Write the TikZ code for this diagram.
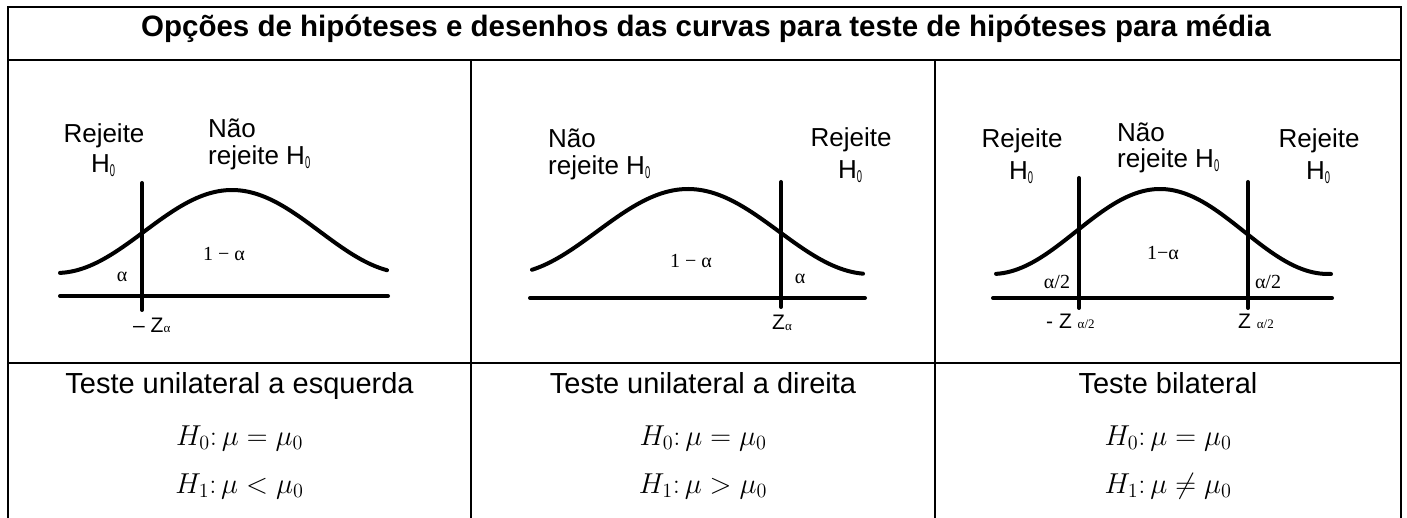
\RequirePackage{fix-cm}
\documentclass[tikz,border=0pt]{standalone}
\usepackage{fontspec}
\setmainfont{Liberation Sans}
\newfontfamily\tmsfont{Liberation Serif}
\usepackage{tikz}
\usetikzlibrary{positioning}
% subscript zero in the curve labels
\newcommand{\Hnull}{H\raisebox{-4pt}{\scalebox{0.55}[1]{\fontsize{17}{17}\selectfont 0}}}
\newcommand{\zsub}[1]{\raisebox{-1pt}{\tmsfont\fontsize{13}{13}\selectfont #1}}
\newcommand{\hypo}[1]{\scalebox{1.2}{$#1$}}

\begin{document}
\begin{tikzpicture}[x=1pt,y=-1pt,
  tbl/.style={line width=2pt},
  curve/.style={line width=4pt,line cap=round},
  headtext/.style={font=\bfseries\fontsize{29.5}{29.5}\selectfont,inner sep=0pt,anchor=base},
  captext/.style={font=\fontsize{29}{29}\selectfont,inner sep=0pt,anchor=base},
  hyp/.style={font=\fontsize{24}{24}\selectfont,inner sep=0pt,anchor=base},
  lbl/.style={font=\fontsize{26}{26}\selectfont,inner sep=0pt},
  grk/.style={font=\tmsfont\fontsize{20}{20}\selectfont,inner sep=0pt,anchor=base},
  zlbl/.style={font=\fontsize{21}{21}\selectfont,inner sep=0pt,anchor=base west}]
\useasboundingbox (0,0) rectangle (1407,518);
% table
\draw[tbl] (8,530) -- (8,7) -- (1401,7) -- (1401,530);
\draw[tbl] (8,60) -- (1401,60);
\draw[tbl] (8,363) -- (1401,363);
\draw[tbl] (471,60) -- (471,530);
\draw[tbl] (935,60) -- (935,530);
\node[headtext] (head) at (706,37) {Opções de hipóteses e desenhos das curvas para teste de hipóteses para média};

% left tail
\draw[curve] (60,296) -- (388,296);
\draw[curve] plot[domain=60:387,samples=90] (\x,{273-83*(1+cos(min(abs(\x-232)/175.6,1)*180))/2});
\draw[curve] (142,183) -- (142,310);
\node[lbl,anchor=base] (rejA) at (104,143) {Rejeite};
\node[lbl,anchor=base] (rejAh) at (103,173) {\Hnull};
\node[lbl,anchor=base west] (naoA) at (208,138) {Não};
\node[lbl,anchor=base west] (naoAh) at (208,165) {rejeite \Hnull};
\node[grk] (alA) at (122,282) {α};
\node[grk] (oneA) at (224,261) {1 − α};
\node[zlbl] (zA) at (133,332) {– Z\zsub{α}};

% right tail
\draw[curve] (530,298) -- (865,298);
\draw[curve] plot[domain=532:863,samples=90] (\x,{274-85*(1+cos(min(abs(\x-688)/182,1)*180))/2});
\draw[curve] (781,182) -- (781,307);
\node[lbl,anchor=base west] (naoB) at (548,148) {Não};
\node[lbl,anchor=base west] (naoBh) at (548,175) {rejeite \Hnull};
\node[lbl,anchor=base] (rejB) at (851,147) {Rejeite};
\node[lbl,anchor=base] (rejBh) at (850,179) {\Hnull};
\node[grk] (oneB) at (691,268) {1 − α};
\node[grk] (alB) at (800,284) {α};
\node[zlbl] (zB) at (772,330) {Z\zsub{α}};

% two tails
\draw[curve] (993,298) -- (1332,298);
\draw[curve] plot[domain=996:1331,samples=90] (\x,{274-85*(1+cos(min(abs(\x-1160)/168,1)*180))/2});
\draw[curve] (1079,178) -- (1079,308);
\draw[curve] (1248,182) -- (1248,308);
\node[lbl,anchor=base] (rejC) at (1022,148) {Rejeite};
\node[lbl,anchor=base] (rejCh) at (1021,180) {\Hnull};
\node[lbl,anchor=base west] (naoC) at (1117,142) {Não};
\node[lbl,anchor=base west] (naoCh) at (1117,168) {rejeite \Hnull};
\node[lbl,anchor=base] (rejD) at (1319,148) {Rejeite};
\node[lbl,anchor=base] (rejDh) at (1318,180) {\Hnull};
\node[grk] (oneC) at (1163,260) {1−α};
\node[grk] (alC) at (1057,289) {α/2};
\node[grk] (alD) at (1268,289) {α/2};
\node[zlbl] (zC) at (1046,328) {- Z \zsub{α/2}};
\node[zlbl] (zD) at (1238,328) {Z \zsub{α/2}};

% captions and hypotheses
\node[captext] (capA) at (239.5,393) {Teste unilateral a esquerda};
\node[captext] (capB) at (703,393) {Teste unilateral a direita};
\node[captext] (capC) at (1168,393) {Teste bilateral};
\node[hyp] (h0A) at (239.5,445) {\hypo{H_0{:}\,\mu=\mu_0}};
\node[hyp] (h1A) at (239.5,493) {\hypo{H_1{:}\,\mu<\mu_0}};
\node[hyp] (h0B) at (703,445) {\hypo{H_0{:}\,\mu=\mu_0}};
\node[hyp] (h1B) at (703,493) {\hypo{H_1{:}\,\mu>\mu_0}};
\node[hyp] (h0C) at (1168,445) {\hypo{H_0{:}\,\mu=\mu_0}};
\node[hyp] (h1C) at (1168,493) {\hypo{H_1{:}\,\mu\neq\mu_0}};
\end{tikzpicture}
\end{document}
